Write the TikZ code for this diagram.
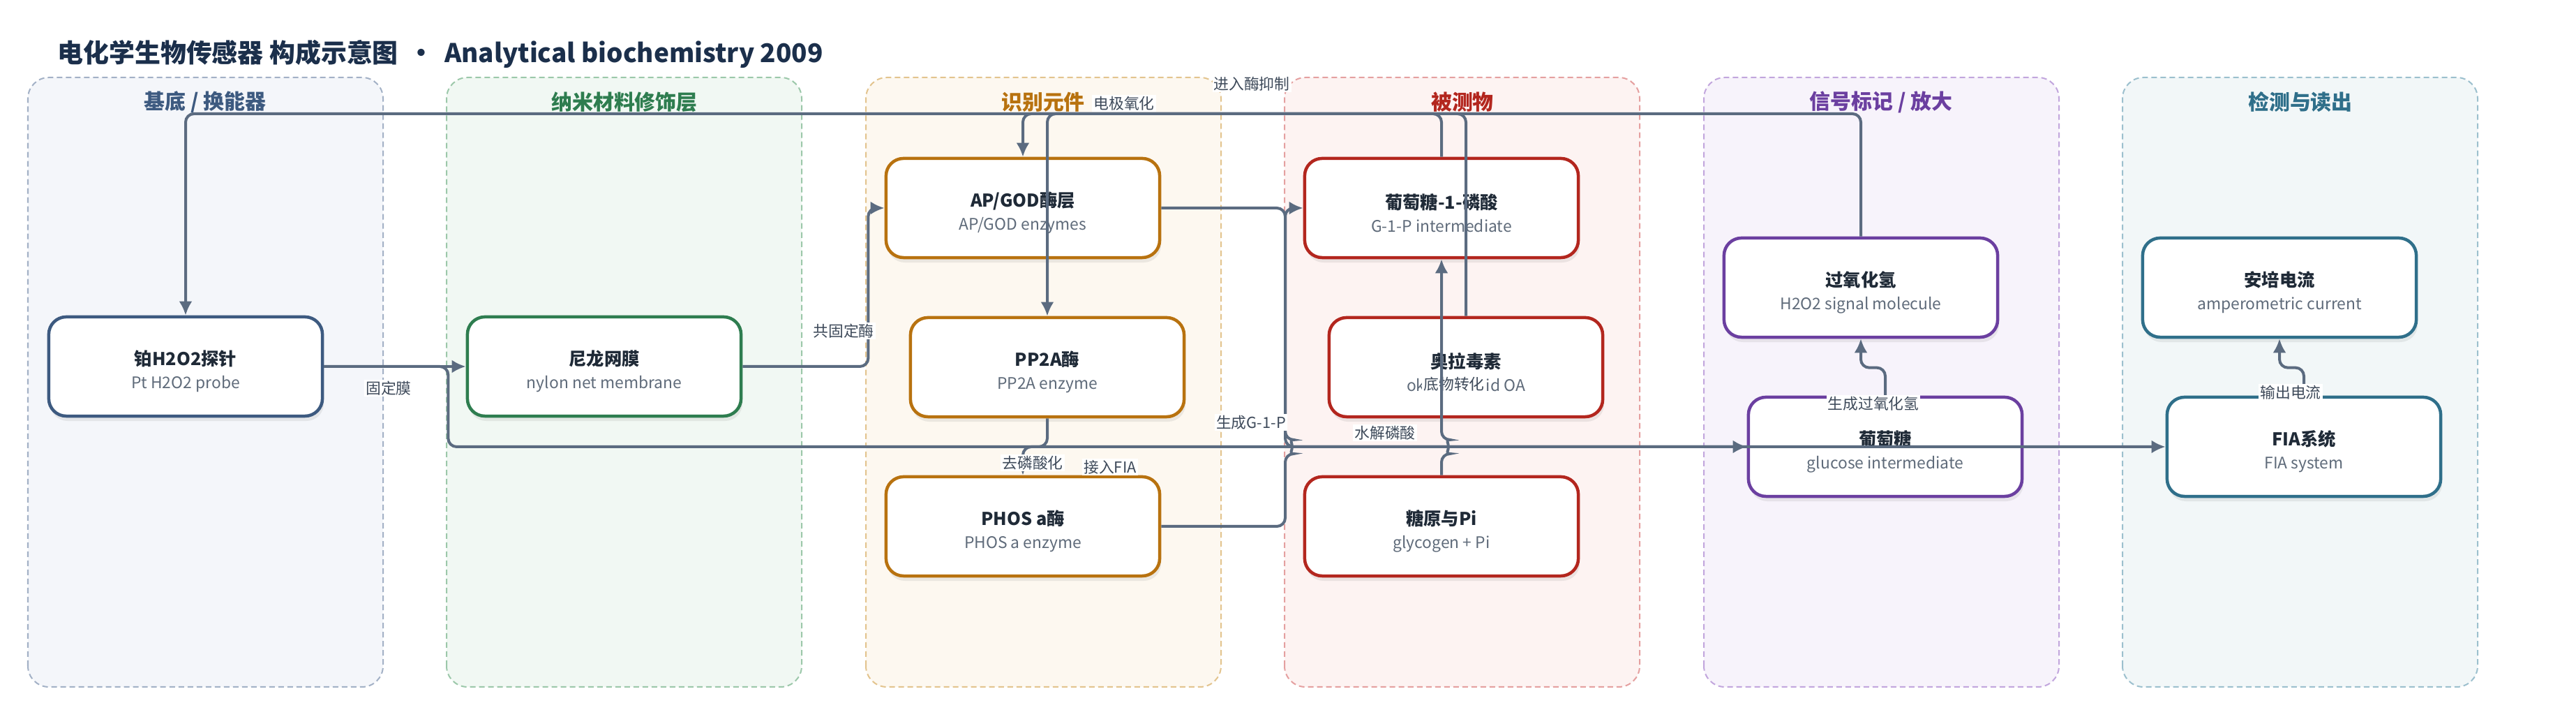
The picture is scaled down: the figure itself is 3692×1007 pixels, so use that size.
\documentclass[tikz,border=0pt]{standalone}
\usepackage{fontspec}
\setmainfont{Noto Sans CJK SC}
\usepackage{tikz}
\usetikzlibrary{arrows.meta,shadows,positioning}

\definecolor{inkNavy}{HTML}{1B2F4B}
\definecolor{textDark}{HTML}{1F2A37}
\definecolor{linkGray}{HTML}{5B6B80}
\definecolor{subGray}{HTML}{5F6B7A}
\definecolor{lblGray}{HTML}{3E4A5A}
% lane colours
\definecolor{baseLine}{HTML}{A3B1C6}\definecolor{baseFill}{HTML}{F4F6FA}\definecolor{baseInk}{HTML}{3D5A80}
\definecolor{nanoLine}{HTML}{9CC8AA}\definecolor{nanoFill}{HTML}{F1F8F3}\definecolor{nanoInk}{HTML}{2E7D4F}
\definecolor{recoLine}{HTML}{E3C48E}\definecolor{recoFill}{HTML}{FDF8F0}\definecolor{recoInk}{HTML}{B8720F}
\definecolor{anaLine}{HTML}{E5A0A0}\definecolor{anaFill}{HTML}{FDF3F2}\definecolor{anaInk}{HTML}{B3261E}
\definecolor{sigLine}{HTML}{C2A6DD}\definecolor{sigFill}{HTML}{F7F3FB}\definecolor{sigInk}{HTML}{6B3FA0}
\definecolor{detLine}{HTML}{9CC0CE}\definecolor{detFill}{HTML}{F2F7F8}\definecolor{detInk}{HTML}{2F6F8A}

\newcommand{\boxtext}[2]{{\fontsize{7.2}{9.4}\selectfont\bfseries\color{textDark}\rule{0pt}{10.2pt}#1}\\{\fontsize{6.5}{9.4}\selectfont\color{subGray}#2}}

\tikzset{
  lane/.style={draw=#1Line, fill=#1Fill, line width=0.02cm, dash pattern=on 0.08cm off 0.05cm, rounded corners=0.3cm},
  lanetitle/.style={text=#1Ink, font=\fontsize{8.5}{10}\selectfont\bfseries},
  stage/.style={draw=#1Ink, fill=white, line width=0.045cm, rounded corners=0.25cm,
    minimum width=3.92cm, minimum height=1.42cm, align=center, inner sep=0pt,
    font=\fontsize{6.5}{9.4}\selectfont,
    drop shadow={opacity=0.14, shadow xshift=0.02cm, shadow yshift=-0.07cm}},
  link/.style={draw=linkGray, line width=0.04cm, rounded corners=0.12cm, -{Latex[length=0.2cm,width=0.19cm]}},
  lbl/.style={fill=white, inner sep=0.02cm, text=lblGray, font=\fontsize{6.2}{7}\selectfont},
}

\begin{document}
\begin{tikzpicture}[x=0.01cm,y=0.01cm]
        \fill[white] (0,0) rectangle (3692,1007);
        \useasboundingbox (0,0) rectangle (3692,1007);

        \node[anchor=west, text=inkNavy, font=\fontsize{10.5}{12}\selectfont\bfseries] (title) at (70,930)
          {电化学生物传感器 构成示意图 \,·\, Analytical biochemistry 2009};

        % lanes
        \draw[lane=base] (40,23) rectangle ++(509,873);
        \draw[lane=nano] (640,23) rectangle ++(509,873);
        \draw[lane=reco] (1241,23) rectangle ++(509,873);
        \draw[lane=ana] (1841,23) rectangle ++(509,873);
        \draw[lane=sig] (2442,23) rectangle ++(509,873);
        \draw[lane=det] (3042,23) rectangle ++(509,873);
        \node[lanetitle=base] (laneA) at (294,861) {基底 / 换能器};
        \node[lanetitle=nano] (laneB) at (895,861) {纳米材料修饰层};
        \node[lanetitle=reco] (laneC) at (1495,861) {识别元件};
        \node[lanetitle=ana] (laneD) at (2096,861) {被测物};
        \node[lanetitle=sig] (laneE) at (2696,861) {信号标记 / 放大};
        \node[lanetitle=det] (laneF) at (3297,861) {检测与读出};

        % stages
        \node[stage=base] (probe) at (266,482) {\boxtext{铂H2O2探针}{Pt H2O2 probe}};
        \node[stage=nano] (nylon) at (866,482) {\boxtext{尼龙网膜}{nylon net membrane}};
        \node[stage=reco] (apgod) at (1466,709) {\boxtext{AP/GOD酶层}{AP/GOD enzymes}};
        \node[stage=reco] (pp2a) at (1501,481) {\boxtext{PP2A酶}{PP2A enzyme}};
        \node[stage=reco] (phos) at (1466,253) {\boxtext{PHOS a酶}{PHOS a enzyme}};
        \node[stage=ana] (g1p) at (2066,709) {\boxtext{葡萄糖-1-磷酸}{G-1-P intermediate}};
        \node[stage=ana] (oa) at (2101,481) {\boxtext{奥拉毒素}{okadaic acid OA}};
        \node[stage=ana] (glyco) at (2066,253) {\boxtext{糖原与Pi}{glycogen + Pi}};
        \node[stage=sig] (hto) at (2667,595) {\boxtext{过氧化氢}{H2O2 signal molecule}};
        \node[stage=sig] (glucose) at (2702,367) {\boxtext{葡萄糖}{glucose intermediate}};
        \node[stage=det] (amp) at (3267,595) {\boxtext{安培电流}{amperometric current}};
        \node[stage=det] (fia) at (3302,367) {\boxtext{FIA系统}{FIA system}};

        \coordinate (rail) at (0,844);
        \coordinate (bus) at (0,367);

        % connectors
        \draw[link] (probe) -- (nylon);
        \node[lbl] (lfix) at (557,451) {固定膜};
        \draw[link] (nylon.east) -- ++(180,0) |- (apgod.west);
        \node[lbl] (lco) at (1209,533) {共固定酶};
        \draw[link] (hto.north) -- (hto.north |- rail) -| (probe.north);
        \node[lbl] (lox) at (1611,859) {电极氧化};
        \draw[link] (g1p.north) -- (g1p.north |- rail) -| (apgod.north);
        \draw[link] (oa.north) -- (oa.north |- rail) -| (pp2a.north);
        \node[lbl] (linh) at (1794,887) {进入酶抑制};
        \draw[link] (pp2a.south) -- (pp2a.south |- bus) -| (phos.north);
        \node[lbl] (ldep) at (1480,344) {去磷酸化};
        \draw[link] (probe.east) -- ++(178,0) |- (fia.west);
        \node[lbl] (lfia) at (1591,338) {接入FIA};
        \draw[link] (apgod.east) -| (1842,367) -- (glucose.west);
        \draw[link] (phos.east) -| (1842,357) arc[start angle=-90, end angle=90, radius=0.1cm] |- (g1p.west);
        \node[lbl] (lg1p) at (1793,402) {生成G-1-P};
        \node[lbl] (lhyd) at (1985,387) {水解磷酸};
        \node[lbl] (lsub) at (2084,457) {底物转化};
        \draw[link] (glyco.north) -- (2066,357) arc[start angle=-90, end angle=90, radius=0.1cm] -- (g1p.south);
        \draw[link] (glucose.north) -- ++(0,40) -| (hto.south);
        \node[lbl] (lhto) at (2685,429) {生成过氧化氢};
        \draw[link] (fia.north) -- ++(0,40) -| (amp.south);
        \node[lbl] (lout) at (3283,445) {输出电流};
    \end{tikzpicture}
\end{document}
